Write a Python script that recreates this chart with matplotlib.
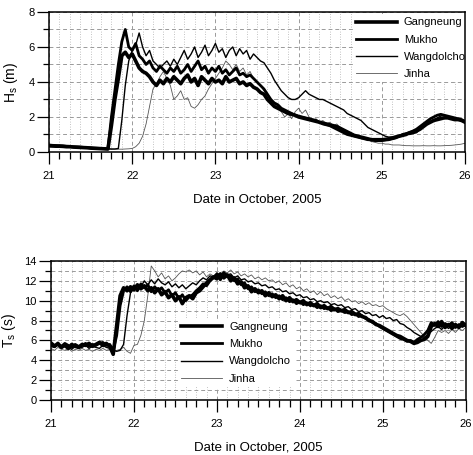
import numpy as np
import matplotlib
matplotlib.use('Agg')
import matplotlib.pyplot as plt
from matplotlib.ticker import MultipleLocator

plt.rcParams['font.family'] = ['Liberation Sans', 'DejaVu Sans']

stations = ['Gangneung', 'Mukho', 'Wangdolcho', 'Jinha']
start_day = 21.0      # 21 October 2005, 00:00
step_hours = 1.0      # hourly values

# Significant wave height Hs (m), hourly from Oct 21 00:00 to Oct 26 00:00
hs_gangneung = [
    0.35, 0.34, 0.33, 0.33, 0.32, 0.30, 0.30, 0.28, 0.27, 0.26, 0.25, 0.24,
    0.22, 0.21, 0.20, 0.19, 0.18, 0.17, 1.5, 3.0, 4.2, 5.5, 5.7, 5.4,
    5.6, 5.2, 4.8, 4.6, 4.5, 4.3, 4.0, 3.8, 4.1, 3.9, 4.2, 4.0,
    4.3, 4.1, 3.9, 4.2, 4.4, 4.0, 4.2, 3.8, 4.3, 4.1, 3.9, 4.2,
    4.0, 4.1, 3.9, 4.3, 4.0, 4.1, 4.2, 3.9, 4.0, 3.8, 3.9, 3.7,
    3.6, 3.4, 3.3, 3.0, 2.8, 2.6, 2.5, 2.4, 2.3, 2.2, 2.15, 2.1,
    2.0, 1.95, 1.9, 1.85, 1.8, 1.75, 1.7, 1.65, 1.6, 1.55, 1.5, 1.45,
    1.35, 1.25, 1.15, 1.05, 0.95, 0.9, 0.85, 0.8, 0.75, 0.7, 0.7, 0.7,
    0.7, 0.72, 0.75, 0.8, 0.85, 0.9, 0.95, 1.0, 1.1, 1.15, 1.2, 1.3,
    1.45, 1.6, 1.7, 1.8, 1.85, 1.9, 1.95, 1.95, 1.9, 1.85, 1.85, 1.8,
    1.7]
hs_mukho = [
    0.40, 0.38, 0.37, 0.36, 0.35, 0.33, 0.32, 0.30, 0.29, 0.28, 0.26, 0.25,
    0.24, 0.22, 0.21, 0.20, 0.19, 0.18, 2.0, 3.5, 5.0, 6.3, 7.0, 6.0,
    5.8, 6.2, 5.5, 5.3, 5.0, 5.2, 4.8, 4.6, 4.9, 4.7, 4.5, 4.8,
    4.6, 4.9, 4.5, 4.7, 5.0, 4.6, 4.9, 5.2, 4.7, 4.9, 4.5, 4.8,
    4.6, 4.9, 4.5, 4.7, 4.4, 4.6, 4.8, 4.4, 4.5, 4.3, 4.4, 4.2,
    4.0, 3.8, 3.6, 3.3, 3.0, 2.8, 2.7, 2.5, 2.4, 2.3, 2.2, 2.1,
    2.05, 2.0, 1.95, 1.9, 1.85, 1.8, 1.7, 1.6, 1.55, 1.5, 1.4, 1.3,
    1.2, 1.1, 1.0, 0.95, 0.9, 0.85, 0.8, 0.75, 0.7, 0.7, 0.65, 0.65,
    0.65, 0.68, 0.7, 0.75, 0.8, 0.9, 1.0, 1.05, 1.1, 1.2, 1.3, 1.45,
    1.6, 1.75, 1.9, 2.0, 2.1, 2.15, 2.1, 2.05, 2.0, 1.95, 1.9, 1.85,
    1.75]
hs_wangdolcho = [
    0.35, 0.34, 0.33, 0.32, 0.31, 0.30, 0.29, 0.28, 0.27, 0.26, 0.25, 0.24,
    0.23, 0.22, 0.21, 0.20, 0.19, 0.18, 0.17, 0.17, 0.20, 1.8, 3.8, 5.2,
    5.8, 6.1, 6.8, 6.0, 5.5, 5.8, 5.2, 5.0, 4.8, 5.0, 5.2, 4.9,
    5.3, 5.0, 5.4, 5.8, 5.3, 5.6, 6.0, 5.4, 5.7, 6.1, 5.5, 5.8,
    6.2, 5.7, 5.9, 5.4, 5.8, 6.0, 5.5, 5.9, 5.6, 5.8, 5.3, 5.6,
    5.4, 5.2, 5.1, 4.8, 4.5, 4.1, 3.8, 3.5, 3.3, 3.1, 3.0, 3.0,
    3.1, 3.3, 3.5, 3.3, 3.2, 3.1, 3.0, 3.0, 2.9, 2.8, 2.7, 2.6,
    2.5, 2.4, 2.2, 2.1, 2.0, 1.9, 1.8, 1.6, 1.4, 1.3, 1.2, 1.1,
    1.0, 0.9, 0.85, 0.85, 0.9, 0.95, 1.0, 1.05, 1.0, 1.05, 1.1, 1.3,
    1.5, 1.65, 1.75, 1.85, 1.95, 2.05, 2.1, 2.0, 1.95, 1.9, 1.85, 1.8,
    1.75]
hs_jinha = [
    0.30, 0.30, 0.29, 0.28, 0.27, 0.26, 0.25, 0.24, 0.23, 0.22, 0.21, 0.20,
    0.19, 0.18, 0.18, 0.17, 0.17, 0.17, 0.16, 0.16, 0.16, 0.16, 0.17, 0.18,
    0.2, 0.3, 0.5, 0.9, 1.6, 2.6, 3.6, 3.9, 4.3, 4.6, 4.2, 3.8,
    3.0, 3.2, 3.5, 3.0, 3.1, 2.6, 2.5, 2.7, 3.0, 3.2, 3.6, 3.9,
    4.2, 4.5, 4.8, 5.2, 5.0, 4.7, 5.0, 4.6, 4.8, 4.4, 4.6, 4.2,
    4.0, 3.8, 3.5, 3.2, 3.0, 2.8, 2.6, 2.3, 2.0, 2.2, 1.9, 2.3,
    2.5, 2.2, 2.4, 2.0, 1.8, 1.9, 1.7, 1.8, 1.6, 1.7, 1.5, 1.6,
    1.4, 1.3, 1.2, 1.1, 1.0, 0.9, 0.8, 0.75, 0.7, 0.6, 0.55, 0.5,
    0.5, 0.45, 0.45, 0.4, 0.4, 0.4, 0.38, 0.36, 0.36, 0.35, 0.35, 0.35,
    0.36, 0.35, 0.35, 0.36, 0.35, 0.35, 0.36, 0.37, 0.38, 0.40, 0.42, 0.45,
    0.5]

# Significant wave period Ts (s), hourly
ts_gangneung = [
    5.6, 5.4, 5.7, 5.3, 5.5, 5.2, 5.6, 5.4, 5.3, 5.6, 5.5, 5.7,
    5.4, 5.6, 5.8, 5.5, 5.7, 5.4, 4.6, 7.5, 10.5, 11.3, 11.0, 11.4,
    11.1, 11.6, 11.2, 11.5, 11.0, 11.3, 10.8, 11.2, 10.6, 10.9, 10.3, 10.6,
    10.0, 10.4, 9.7, 10.3, 10.5, 10.2, 10.8, 11.0, 11.4, 11.8, 12.1, 12.4,
    12.2, 12.7, 12.3, 12.6, 12.0, 12.3, 11.7, 11.9, 11.3, 11.5, 10.9, 11.2,
    10.8, 11.0, 10.5, 10.8, 10.4, 10.6, 10.2, 10.5, 10.0, 10.3, 9.9, 10.1,
    9.8, 10.0, 9.6, 9.8, 9.5, 9.7, 9.3, 9.5, 9.2, 9.4, 9.1, 9.2,
    9.0, 9.1, 8.8, 8.9, 8.6, 8.7, 8.4, 8.3, 8.0, 7.9, 7.6, 7.5,
    7.3, 7.1, 6.9, 6.7, 6.5, 6.4, 6.2, 6.0, 5.9, 5.7, 5.8, 6.0,
    6.1, 6.4, 7.4, 7.7, 7.4, 7.9, 7.3, 7.6, 7.2, 7.6, 7.3, 7.8,
    7.5]
ts_mukho = [
    5.8, 5.5, 5.6, 5.4, 5.7, 5.5, 5.3, 5.6, 5.4, 5.5, 5.7, 5.4,
    5.6, 5.5, 5.7, 5.8, 5.5, 5.6, 5.0, 6.5, 9.5, 11.0, 11.4, 10.9,
    11.5, 11.0, 11.7, 11.3, 11.6, 10.9, 11.4, 11.0, 11.3, 10.8, 11.1, 10.5,
    10.8, 10.2, 10.6, 10.0, 10.4, 10.6, 11.0, 11.3, 11.7, 11.5, 12.0, 12.3,
    12.6, 12.1, 12.8, 12.4, 12.5, 12.0, 12.2, 11.6, 11.8, 11.2, 11.4, 10.9,
    11.1, 10.7, 10.9, 10.5, 10.7, 10.3, 10.5, 10.1, 10.3, 9.9, 10.1, 9.7,
    9.9, 9.6, 9.8, 9.5, 9.6, 9.3, 9.5, 9.2, 9.3, 9.0, 9.2, 8.9,
    9.0, 8.8, 8.9, 8.6, 8.7, 8.4, 8.5, 8.2, 8.1, 7.8, 7.7, 7.4,
    7.2, 7.0, 6.8, 6.6, 6.4, 6.2, 6.1, 5.9, 6.0, 5.8, 6.1, 6.3,
    6.6, 7.0, 7.8, 7.5, 7.9, 7.4, 7.7, 7.5, 7.8, 7.3, 7.6, 7.4,
    7.6]
ts_wangdolcho = [
    5.4, 5.3, 5.5, 5.2, 5.4, 5.3, 5.1, 5.4, 5.2, 5.3, 5.5, 5.2,
    5.4, 5.3, 5.2, 5.5, 5.3, 5.2, 5.0, 4.9, 5.0, 5.6, 8.5, 10.8,
    11.2, 11.6, 11.4, 12.0, 11.6, 12.1, 11.7, 12.2, 11.8, 11.6, 11.9, 11.4,
    11.7, 11.3, 11.6, 11.2, 11.5, 11.8, 11.6, 12.0, 12.3, 12.1, 12.5, 12.4,
    12.8, 12.5, 12.9, 12.6, 12.7, 12.3, 12.5, 12.1, 12.2, 11.9, 12.0, 11.7,
    11.8, 11.5, 11.6, 11.3, 11.4, 11.1, 11.2, 10.9, 11.0, 10.7, 10.8, 10.5,
    10.6, 10.3, 10.4, 10.1, 10.2, 9.9, 10.0, 9.8, 9.9, 9.6, 9.7, 9.5,
    9.6, 9.3, 9.4, 9.1, 9.2, 8.9, 9.0, 8.7, 8.8, 8.5, 8.6, 8.3,
    8.5, 8.2, 8.3, 8.0, 8.1, 7.7, 7.6, 7.3, 7.1, 6.8, 6.6, 6.4,
    6.3, 6.6, 6.9, 7.2, 7.4, 7.1, 7.5, 7.2, 7.6, 7.3, 7.5, 7.4,
    7.6]
ts_jinha = [
    5.2, 5.0, 5.3, 5.1, 5.0, 5.2, 4.9, 5.1, 5.0, 5.2, 5.0, 5.1,
    4.9, 5.1, 5.0, 5.2, 5.0, 5.1, 4.9, 5.0, 5.1, 5.3, 4.9, 4.7,
    5.5, 5.6, 6.5, 8.0, 10.5, 13.5, 13.0, 12.4, 12.8, 12.2, 12.5, 12.0,
    12.3, 12.7, 13.0, 12.9, 13.1, 12.8, 13.0, 12.6, 12.9, 12.4, 12.7, 12.5,
    12.8, 12.6, 13.0, 12.8, 13.1, 12.7, 12.9, 12.5, 12.7, 12.4, 12.6, 12.2,
    12.4, 12.1, 12.3, 12.0, 12.1, 11.8, 12.0, 11.6, 11.8, 11.4, 11.6, 11.2,
    11.4, 11.0, 11.2, 10.8, 11.0, 10.6, 10.9, 10.5, 10.7, 10.3, 10.5, 10.2,
    10.4, 10.0, 10.2, 9.9, 10.0, 9.7, 9.9, 9.6, 9.8, 9.5, 9.6, 9.4,
    9.5, 9.2, 9.0, 8.8, 8.6, 8.5, 8.7, 8.4, 8.0, 7.6, 7.2, 6.8,
    6.4, 6.0, 5.7, 6.3, 7.0, 6.8, 7.0, 6.7, 7.1, 6.8, 7.2, 7.0,
    7.3]

x_ticks = [21, 22, 23, 24, 25, 26]
xlabel = 'Date in October, 2005'

styles = {
    'Gangneung': dict(color='black', lw=2.6, zorder=4),
    'Mukho': dict(color='black', lw=2.0, zorder=3.5),
    'Wangdolcho': dict(color='black', lw=1.0, zorder=3),
    'Jinha': dict(color='#555555', lw=0.6, zorder=2.8),
}

def t_axis(vals):
    return start_day + np.arange(len(vals)) * step_hours / 24.0

fig = plt.figure(figsize=(4.73, 4.55), dpi=100)
ax1 = fig.add_axes([0.1036, 0.666, 0.8795, 0.3077])
ax2 = fig.add_axes([0.1078, 0.1209, 0.877, 0.3055])

def style_axis(ax, ymax, ymajor):
    ax.set_xlim(21, 26)
    ax.set_ylim(0, ymax)
    ax.set_xticks(x_ticks)
    ax.xaxis.set_minor_locator(MultipleLocator(1 / 8))
    ax.yaxis.set_major_locator(MultipleLocator(ymajor))
    ax.yaxis.set_minor_locator(MultipleLocator(1))
    ax.tick_params(axis='both', which='major', direction='out', length=8.5,
                   width=0.9, labelsize=8, pad=5)
    ax.tick_params(axis='x', which='minor', direction='out', length=5, width=0.9)
    ax.tick_params(axis='y', which='minor', direction='out', length=4.5, width=0.9)
    ax.tick_params(axis='y', which='major', pad=2)
    ax.grid(True, axis='x', which='major', color='#9a9a9a', ls=(0, (4, 3)), lw=0.7)
    ax.grid(True, axis='x', which='minor', color='#b0b0b0', ls=(0, (1, 2)), lw=0.6)
    ax.grid(True, axis='y', which='both', color='#9a9a9a', ls=(0, (4, 3)), lw=0.7)
    ax.set_axisbelow(True)
    for s in ax.spines.values():
        s.set_linewidth(1.1)
        s.set_zorder(6)
    ax.set_xlabel(xlabel, fontsize=9.5, labelpad=9)

hs_data = [hs_gangneung, hs_mukho, hs_wangdolcho, hs_jinha]
ts_data = [ts_gangneung, ts_mukho, ts_wangdolcho, ts_jinha]

for name, vals in zip(stations, hs_data):
    ax1.plot(t_axis(vals), vals, label=name, **styles[name])
for name, vals in zip(stations, ts_data):
    ax2.plot(t_axis(vals), vals, label=name, **styles[name])

style_axis(ax1, 8, 2)
style_axis(ax2, 14, 2)
ax1.set_ylabel('H$_\\mathregular{s}$ (m)', fontsize=10, labelpad=6)
ax2.set_ylabel('T$_\\mathregular{s}$ (s)', fontsize=10, labelpad=4)

leg_kw = dict(fontsize=8.0, frameon=True, fancybox=False, handlelength=3.7,
              handletextpad=0.6, labelspacing=0.65, borderaxespad=0,
              borderpad=0.3, loc='upper left')
l1 = ax1.legend(bbox_to_anchor=(0.73, 0.985), **leg_kw)
l2 = ax2.legend(bbox_to_anchor=(0.306, 0.585), **leg_kw)
for lg in (l1, l2):
    lg.get_frame().set_facecolor('white')
    lg.get_frame().set_edgecolor('none')
    lg.get_frame().set_alpha(1)

fig.savefig('out.png', dpi=100)
